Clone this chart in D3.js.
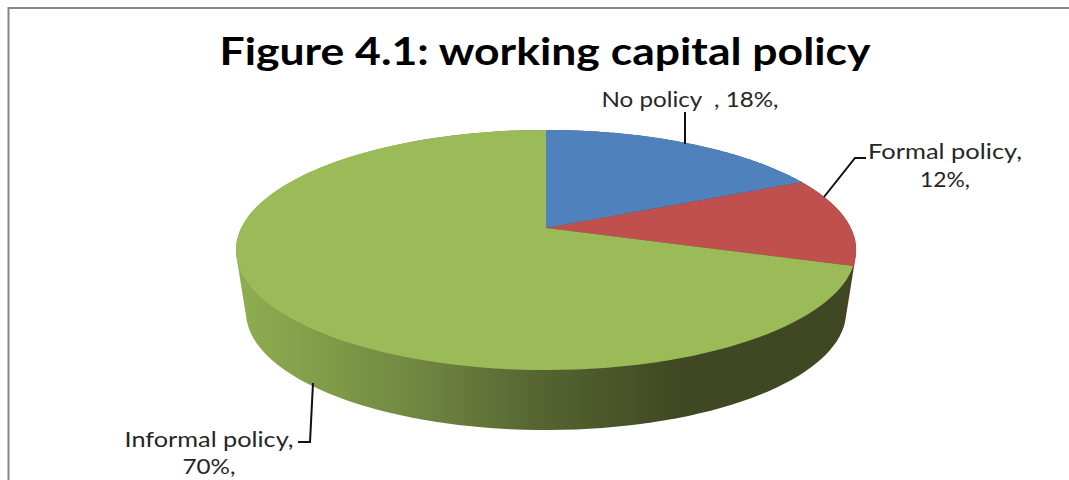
<!DOCTYPE html>
<html>
<head>
<meta charset="utf-8">
<script src="https://cdn.jsdelivr.net/npm/d3@7"></script>
<style>
html,body{margin:0;padding:0;background:#fff;overflow:hidden}
svg{display:block}
text{font-family:Lato,"Open Sans",sans-serif;fill:#262626}
</style>
</head>
<body>
<svg id="chart" width="1069" height="480"></svg>
<script>
// Shares of firms by type of working capital policy
const categories = ["No policy", "Formal policy", "Informal policy"];
const shares = [18, 12, 70];
const topColors = ["#4f81bd", "#c0504d", "#9bbb59"];
const wallColors = ["#2c4a6e", "#6b2a28", "url(#greenWall)"];
const labelLines = [["No policy  , 18%,"], ["Formal policy,", "12%,"], ["Informal policy,", "70%,"]];

const svg = d3.select("#chart");

// Horizontal shading of the rim
const grad = svg.append("defs").append("linearGradient")
  .attr("id", "greenWall").attr("gradientUnits", "userSpaceOnUse")
  .attr("x1", 236).attr("x2", 856).attr("y1", 0).attr("y2", 0);
[[0, "#8fad50"], [0.12, "#82a04a"], [0.3, "#6f8540"], [0.5, "#556330"], [0.72, "#3f4822"], [1, "#3f4822"]]
  .forEach(([o, c]) => grad.append("stop").attr("offset", o).attr("stop-color", c));

// Frame, open on the right and bottom
svg.append("path").attr("d", "M8.5,480V8H1069").attr("fill", "none")
  .attr("stroke", "#868686").attr("stroke-width", 2);

// Tilted disc: perspective from pie angle to screen position
const apex = { x: 546, y: 228 };
const k = 0.1833, a = 116, b = 304.8;
function topPoint(t) {
  const w = 1 + k * Math.cos(t);
  return [apex.x + b * Math.sin(t) / w, apex.y - a * Math.cos(t) / w];
}
const rimX = d3.scaleLinear().domain([236, 856]).range([246, 846]);
const rimY = d3.scaleLinear().domain([130, 370]).range([194, 430]);
function rimPoint(t) {
  const [x, y] = topPoint(t);
  return [rimX(x), rimY(y)];
}

const arcs = d3.pie().sort(null)(shares);
const line = d3.line();
const sample = (s, e) => d3.range(0, 121).map(i => s + (e - s) * i / 120);

// Rim first, as the hull of each slice's two edges; the top face covers its hidden part
svg.append("g").selectAll("path").data(arcs).join("path")
  .attr("d", d => {
    const ts = sample(d.startAngle, d.endAngle);
    return line(d3.polygonHull(ts.map(topPoint).concat(ts.map(rimPoint)))) + "Z";
  })
  .attr("fill", (d, i) => wallColors[i]);

// Top face
svg.append("g").selectAll("path").data(arcs).join("path")
  .attr("d", d => line([[apex.x, apex.y]].concat(sample(d.startAngle, d.endAngle).map(topPoint))) + "Z")
  .attr("fill", (d, i) => topColors[i]);

// Leader lines
const leaders = [
  [[685, 112], [685, 144]],
  [[824, 197], [855, 158], [866, 158]],
  [[313, 383], [310, 442], [298, 442]]
];
svg.append("g").selectAll("path").data(leaders).join("path")
  .attr("d", d => line(d)).attr("fill", "none").attr("stroke", "#111").attr("stroke-width", 2);

// Title
svg.append("text").attr("x", 545).attr("y", 65).attr("text-anchor", "middle")
  .attr("font-size", 38).attr("font-weight", 700).style("fill", "#000")
  .attr("textLength", 651).attr("lengthAdjust", "spacingAndGlyphs")
  .text("Figure 4.1: working capital policy");

// Category labels
const labelPos = [
  { x: 690, y: [107], w: [177] },
  { x: 945, y: [159, 187], w: [154, 50] },
  { x: 209, y: [447, 474], w: [169, 53] }
];
const labelGroup = svg.append("g");
categories.forEach((name, i) => {
  const pos = labelPos[i];
  labelLines[i].forEach((s, j) => {
    labelGroup.append("text")
      .attr("x", pos.x).attr("y", pos.y[j]).attr("text-anchor", "middle").attr("font-size", 21)
      .attr("textLength", pos.w[j]).attr("lengthAdjust", "spacingAndGlyphs")
      .style("white-space", "pre").text(s);
  });
});
</script>
</body>
</html>
